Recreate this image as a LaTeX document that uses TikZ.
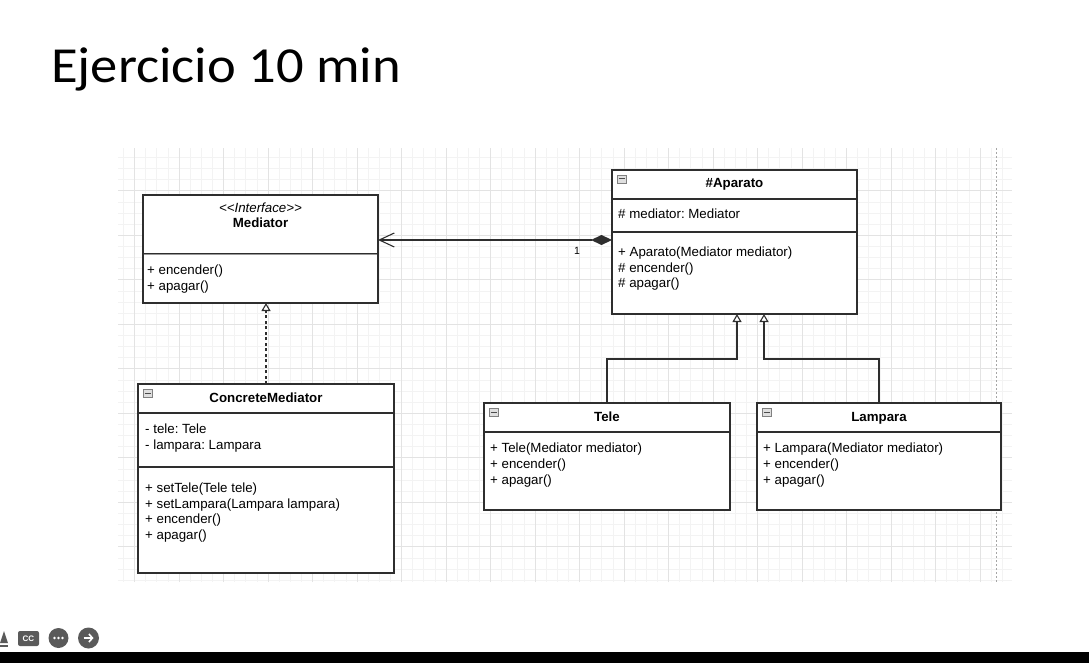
\documentclass[tikz,border=0pt]{standalone}
\usepackage{fontspec}
\setmainfont{Liberation Sans}
\newfontfamily\titlefont[FakeStretch=1.08]{Carlito}
\usetikzlibrary{positioning,arrows.meta}
\frenchspacing

\definecolor{umlline}{HTML}{2E2E2E}
\definecolor{gridminor}{HTML}{F3F3F3}
\definecolor{gridmajor}{HTML}{E3E3E3}
\definecolor{iconcol}{HTML}{5A5A5A}

\tikzset{
	umlpart/.style={draw=umlline, line width=1.1pt, fill=white, inner sep=0pt, outer sep=0pt,
		text height=9.5pt, text depth=2.5pt, font={\fontsize{13.3}{15.8}\selectfont}},
	members/.style={anchor=north west, align=left, inner sep=0pt,
		font={\fontsize{13.3}{15.8}\selectfont}},
	assoc/.style={draw=umlline, line width=1.1pt,
		{Straight Barb[length=15pt,width=14pt]}-{Diamond[length=21pt,width=10pt]}},
	realize/.style={draw=umlline, line width=1.1pt, dash pattern=on 3pt off 2.5pt,
		-{Triangle[open, length=8pt, width=9pt]}},
	inherit/.style={draw=umlline, line width=1.1pt, -{Triangle[open, length=8pt, width=9pt]}}
}

% little collapse box in the top left corner of a class
\newcommand{\minusbox}[1]{
	\draw[gray, fill=gray!25, line width=0.6pt] ([shift={(5,5)}]#1.north west) rectangle ++(9,8);
	\draw[black!70, line width=1pt] ([shift={(6.5,9)}]#1.north west) -- ++(6,0);
}

\begin{document}
\begin{tikzpicture}[x=1pt, y=-1pt]
	\useasboundingbox (0,0) rectangle (1089,663);
	
	\node[anchor=base west, inner sep=0pt, font={\titlefont\fontsize{50.5}{58}\selectfont}] (title) at (51,83) {Ejercicio 10 min};
	
	% drawing canvas
	\begin{scope}[shift={(1,12.7)}]
		\draw[gridminor, line width=0.6pt, step=11.125pt] (117,135.3) grid (1011,569.3);
		\draw[gridmajor, line width=0.8pt, step=44.5pt] (117,135.3) grid (1011,569.3);
	\end{scope}
	\draw[black!35, line width=0.8pt, dash pattern=on 2pt off 2pt] (996,148) -- (996,582);
	
	% Mediator
	\node[umlpart, minimum width=235pt, minimum height=59pt] (mediatorHead) at (260.5,224.5) {};
	\node[umlpart, minimum width=235pt, minimum height=49pt, below=0pt of mediatorHead] (mediatorOps) {};
	\draw[black!40, line width=0.8pt] ([shift={(0.6,0)}]mediatorOps.north west) -- ([shift={(-0.6,0)}]mediatorOps.north east);
	\node[inner sep=0pt, anchor=north, align=center, font={\fontsize{13.3}{15}\selectfont}] (mediatorName) at ([shift={(0,8)}]mediatorHead.north) {{\itshape <\kern0pt<Interface>\kern0pt>}\\{\bfseries Mediator}};
	\node[members] (mediatorOpsText) at ([shift={(4,11)}]mediatorOps.north west) {+ encender()\\+ apagar()};
	
	% Aparato
	\node[umlpart, minimum width=245pt, minimum height=29pt] (aparatoHead) at (734.5,184.5) {\bfseries \#Aparato};
	\node[umlpart, minimum width=245pt, minimum height=33pt, below=0pt of aparatoHead] (aparatoAttr) {};
	\node[umlpart, minimum width=245pt, minimum height=82pt, below=0pt of aparatoAttr] (aparatoOps) {};
	\node[members] (aparatoAttrText) at ([shift={(6,9.5)}]aparatoAttr.north west) {\# mediator: Mediator};
	\node[members] (aparatoOpsText) at ([shift={(6,14.5)}]aparatoOps.north west) {+ Aparato(Mediator mediator)\\\# encender()\\\# apagar()};
	\minusbox{aparatoHead}
	
	% ConcreteMediator
	\node[umlpart, minimum width=256pt, minimum height=29pt] (concreteHead) at (266,398.5) {\bfseries ConcreteMediator};
	\node[umlpart, minimum width=256pt, minimum height=54pt, below=0pt of concreteHead] (concreteAttr) {};
	\node[umlpart, minimum width=256pt, minimum height=106pt, below=0pt of concreteAttr] (concreteOps) {};
	\node[members] (concreteAttrText) at ([shift={(7,10.5)}]concreteAttr.north west) {- tele: Tele\\- lampara: Lampara};
	\node[members] (concreteOpsText) at ([shift={(7,15.5)}]concreteOps.north west) {+ setTele(Tele tele)\\+ setLampara(Lampara lampara)\\+ encender()\\+ apagar()};
	\minusbox{concreteHead}
	
	% Tele
	\node[umlpart, minimum width=246pt, minimum height=29pt] (teleHead) at (607,417.5) {\bfseries Tele};
	\node[umlpart, minimum width=246pt, minimum height=78pt, below=0pt of teleHead] (teleOps) {};
	\node[members] (teleOpsText) at ([shift={(6,11)}]teleOps.north west) {+ Tele(Mediator mediator)\\+ encender()\\+ apagar()};
	\minusbox{teleHead}
	
	% Lampara
	\node[umlpart, minimum width=244pt, minimum height=29pt] (lamparaHead) at (879,417.5) {\bfseries Lampara};
	\node[umlpart, minimum width=244pt, minimum height=78pt, below=0pt of lamparaHead] (lamparaOps) {};
	\node[members] (lamparaOpsText) at ([shift={(6,11)}]lamparaOps.north west) {+ Lampara(Mediator mediator)\\+ encender()\\+ apagar()};
	\minusbox{lamparaHead}
	
	% relations
	\coordinate (assocEnd) at ([shift={(0,8)}]aparatoOps.north west);
	\draw[assoc] (mediatorHead.east |- assocEnd) -- (assocEnd);
	\node[inner sep=0pt, font={\fontsize{10.5}{12}\selectfont}] (mult) at ([shift={(-35,11)}]assocEnd) {1};
	\draw[realize] (concreteHead.north) -- (concreteHead.north |- mediatorOps.south);
	\draw[inherit] (teleHead.north) -- ++(0,-44) -| ([shift={(2.5,0)}]aparatoOps.south);
	\draw[inherit] (lamparaHead.north) -- ++(0,-44) -| ([shift={(29.5,0)}]aparatoOps.south);
	
	% player controls
	\fill[iconcol] (0,643) -- (4,631) -- (8,643) -- cycle;
	\fill[iconcol] (0,644.5) rectangle (8,646.5);
	\node[fill=iconcol, rounded corners=2pt, minimum width=21pt, minimum height=15pt, inner sep=0pt, text=white, font={\bfseries\fontsize{8}{8}\selectfont}] (ccButton) at (28.5,638.5) {CC};
	\node[circle, fill=iconcol, minimum size=20pt, inner sep=0pt] (moreButton) at (58.5,638) {};
	\foreach \dx in {-4,0,4}
		\fill[white] ([shift={(\dx,0)}]moreButton.center) circle (1.3pt);
	\node[circle, fill=iconcol, minimum size=21pt, inner sep=0pt] (nextButton) at (88.5,638) {};
	\draw[white, line width=1.6pt, -{Straight Barb[length=3.5pt,width=8pt]}] ([shift={(-5,0)}]nextButton.center) -- ([shift={(5,0)}]nextButton.center);
	\fill[black] (0,651.5) rectangle (1089,663);
	
\end{tikzpicture}
\end{document}
